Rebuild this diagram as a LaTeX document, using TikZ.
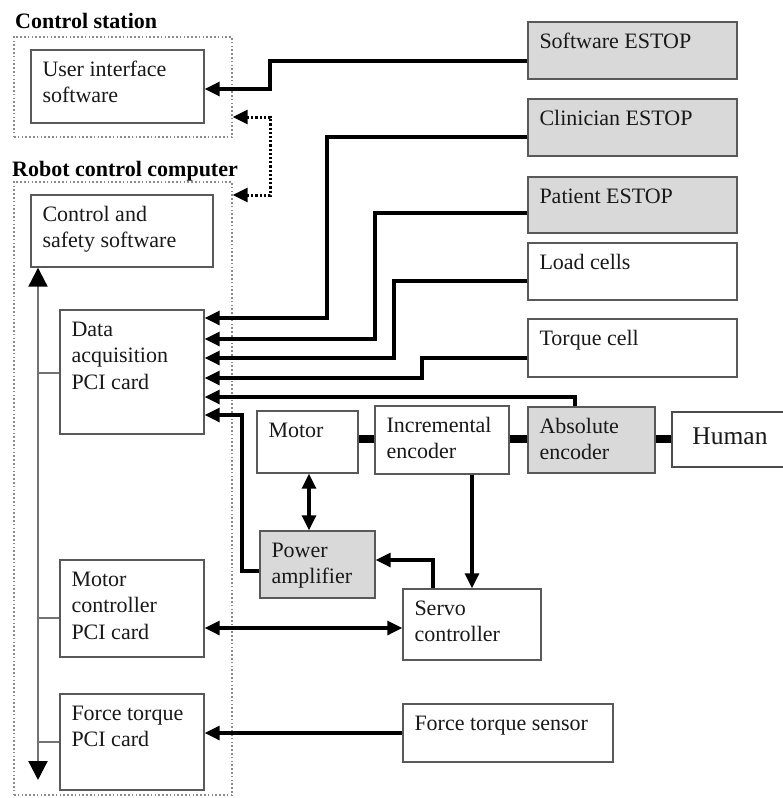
\documentclass[tikz,border=0pt]{standalone}
\usepackage{fontspec}
\setmainfont{Liberation Serif}
\usetikzlibrary{arrows.meta,fit}
\begin{document}
\begin{tikzpicture}[x=1pt,y=-1pt,
  plainbox/.style={draw=black!65, line width=1.4pt, inner sep=0pt, fill=white},
  greybox/.style={plainbox, fill=black!15},
  humanbox/.style={draw=black!70, line width=2.6pt, inner sep=0pt, fill=white},
  groupbox/.style={draw=black!45, line width=1.4pt, dash pattern=on 1.6pt off 2.2pt, inner sep=0pt},
  txt/.style={font=\fontsize{22}{26.5}\selectfont, inner sep=0pt, anchor=base west, text=black!90},
  grouptitle/.style={font=\bfseries\fontsize{22}{26}\selectfont, inner sep=0pt, anchor=base west},
  tip/.style={},
  conn/.style={line width=3.2pt, -{Triangle[length=15pt,width=14pt]}},
  dconn/.style={line width=3.2pt, {Triangle[length=15pt,width=14pt]}-{Triangle[length=15pt,width=14pt]}},
  dotconn/.style={line width=3pt, dash pattern=on 2.2pt off 2pt,
    {Triangle[length=15pt,width=14pt]}-{Triangle[length=15pt,width=14pt]}},
  bus/.style={draw=black!55, line width=2.2pt,
    {Triangle[length=19pt,width=19pt,color=black]}-{Triangle[length=19pt,width=19pt,color=black]}},
  stub/.style={draw=black!55, line width=2.2pt},
  couple/.style={line width=8.5pt},
]
\useasboundingbox (0,0) rectangle (783,798);

% a block: name, corners, style, text set at its top left (first baseline fixed)
\newcommand{\blk}[7]{%
  \node[#6, fit={(#2,#3) (#4,#5)}] (#1) {};
  \node[txt] (#1-t) at ([xshift=12pt, yshift=-27pt]#1.north west)
    {\begin{tabular}[t]{@{}l@{}}#7\end{tabular}};}

% groups
\node[groupbox, fit={(14,37) (232,137)}] (csbox) {};
\node[grouptitle] (cstitle) at (15,28) {Control station};
\node[groupbox, fit={(14,182) (232,795)}] (rcbox) {};
\node[grouptitle] (rctitle) at (12,176) {Robot control computer};

% computer side
\blk{ui}{31}{50}{204}{123}{plainbox}{User interface\\software}
\blk{csw}{31}{195}{213}{267}{plainbox}{Control and\\safety software}
\blk{daq}{60}{310}{204}{434}{plainbox}{Data\\acquisition\\PCI card}
\blk{mc}{60}{560}{204}{657}{plainbox}{Motor\\controller\\PCI card}
\blk{ftc}{60}{694}{204}{790}{plainbox}{Force torque\\PCI card}

% sensors and stops
\blk{swe}{528}{22}{737}{79}{greybox}{Software ESTOP}
\blk{ce}{528}{99}{737}{156}{greybox}{Clinician ESTOP}
\blk{pe}{528}{177}{737}{233}{greybox}{Patient ESTOP}
\blk{lc}{528}{243}{737}{300}{plainbox}{Load cells}
\blk{tc}{528}{319}{737}{377}{plainbox}{Torque cell}

% drive train
\blk{mot}{257}{411}{358}{473}{plainbox}{Motor}
\blk{ie}{375}{406}{509}{474}{plainbox}{Incremental\\encoder}
\blk{ae}{528}{407}{655}{473}{greybox}{Absolute\\encoder}
\node[humanbox, fit={(672,412) (792,467)}] (hu) {};
\node[font=\fontsize{25.5}{28}\selectfont, inner sep=0pt, anchor=base, text=black!90] (hu-t) at (730,444) {Human};
\blk{pa}{260}{531}{375}{598}{greybox}{Power\\amplifier}
\blk{sc}{403}{589}{541}{660}{plainbox}{Servo\\controller}
\blk{fts}{403}{704}{613}{762}{plainbox}{Force torque sensor}

% mechanical couplings
\draw[couple] (mot.east |- 0,439) -- (ie.west |- 0,439);
\draw[couple] (ie.east |- 0,439) -- (ae.west |- 0,439);
\draw[couple] (ae.east |- 0,439) -- (hu.west |- 0,439);

% internal bus
\coordinate (busbot) at (38,780);
\draw[bus] (busbot) -- (csw.south -| busbot);
\draw[stub] (busbot |- 0,373) -- (daq.west |- 0,373);
\draw[stub] (busbot |- 0,618) -- (mc.west |- 0,618);
\draw[stub] (busbot |- 0,742) -- (ftc.west |- 0,742);

% link between station and computer
\draw[dotconn] (csbox.east |- 0,117) -| (270,156) |- (rcbox.east |- 0,195);

% signals
\draw[conn] (swe.west |- 0,61) -| (270,89) -- (ui.east |- 0,89);
\draw[conn] (ce.west |- 0,137) -| (327,318) -- (daq.east |- 0,318);
\draw[conn] (pe.west |- 0,213) -| (375,339) -- (daq.east |- 0,339);
\draw[conn] (lc.west |- 0,281) -| (394,358) -- (daq.east |- 0,358);
\draw[conn] (tc.west |- 0,358) -| (422,378) -- (daq.east |- 0,378);
\draw[conn] (ae.north -| 575,0) |- (daq.east |- 0,397);
\draw[conn] (pa.west |- 0,571) -| (242,415) -- (daq.east |- 0,415);
\draw[dconn] (mot.south -| 309,0) -- (pa.north -| 309,0);
\draw[conn] (ie.south -| 472,0) -- (sc.north -| 472,0);
\draw[conn] (sc.north -| 433,0) |- (pa.east |- 0,560);
\draw[dconn] (mc.east |- 0,628) -- (sc.west |- 0,628);
\draw[conn] (fts.west |- 0,733) -- (ftc.east |- 0,733);
\end{tikzpicture}
\end{document}
